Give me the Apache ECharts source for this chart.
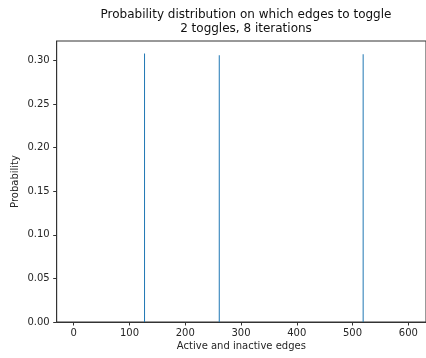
<!DOCTYPE html>
<html>
<head>
<meta charset="utf-8">
<script src="https://cdn.jsdelivr.net/npm/echarts@6/dist/echarts.min.js"></script>
<style>
html,body{margin:0;padding:0;background:#fff;}
#chart{width:426px;height:358px;}
</style>
</head>
<body>
<div id="chart"></div>
<script>
// Data
var edgeIndex = [127, 261, 519];
var probability = [0.308, 0.306, 0.307];
var xTickValues = [0, 100, 200, 300, 400, 500, 600];
var yTickValues = [0, 0.05, 0.10, 0.15, 0.20, 0.25, 0.30];
var titleLines = ['Probability distribution on which edges to toggle', '2 toggles, 8 iterations'];

var FONT = 'DejaVu Sans';
var TXT = '#262626';
var LINE = '#333';

var barData = edgeIndex.map(function (x, i) { return [x, probability[i]]; });

var chart = echarts.init(document.getElementById('chart'), null, {renderer: 'canvas'});
chart.setOption({
  animation: false,
  backgroundColor: '#fff',
  title: {
    text: titleLines.join('\n'),
    left: 241,
    textAlign: 'center',
    top: 3,
    textStyle: {fontFamily: FONT, fontSize: 12, fontWeight: 'normal', color: '#111', lineHeight: 14}
  },
  grid: {
    left: 56.7, right: 0, top: 41, bottom: 36,
    outerBoundsMode: 'none',
    show: true, borderColor: LINE, borderWidth: 1, backgroundColor: 'transparent'
  },
  xAxis: {
    type: 'value',
    min: -30.5, max: 631.7,
    name: 'Active and inactive edges',
    nameLocation: 'middle',
    nameGap: 19,
    nameMoveOverlap: false,
    nameTextStyle: {fontFamily: FONT, fontSize: 10, color: TXT, verticalAlign: 'top'},
    axisLine: {show: true, onZero: false, lineStyle: {color: LINE, width: 1}},
    axisTick: {show: true, length: 3.5, lineStyle: {color: LINE}, customValues: xTickValues},
    axisLabel: {fontFamily: FONT, fontSize: 10, color: TXT, margin: 6, customValues: xTickValues,
      formatter: function (v) { return String(Math.round(v)); }},
    splitLine: {show: false}
  },
  yAxis: {
    type: 'value',
    min: 0, max: 0.3222,
    name: 'Probability',
    nameLocation: 'middle',
    nameGap: 36,
    nameMoveOverlap: false,
    nameTextStyle: {fontFamily: FONT, fontSize: 10, color: TXT},
    axisLine: {show: true, onZero: false, lineStyle: {color: LINE, width: 1}},
    axisTick: {show: true, length: 3.5, lineStyle: {color: LINE}, customValues: yTickValues},
    axisLabel: {fontFamily: FONT, fontSize: 10, color: TXT, margin: 7, customValues: yTickValues,
      formatter: function (v) { return v.toFixed(2); }},
    splitLine: {show: false}
  },
  series: [{
    type: 'bar',
    data: barData,
    barWidth: 1,
    itemStyle: {color: '#1f77b4'}
  }]
});
</script>
</body>
</html>
